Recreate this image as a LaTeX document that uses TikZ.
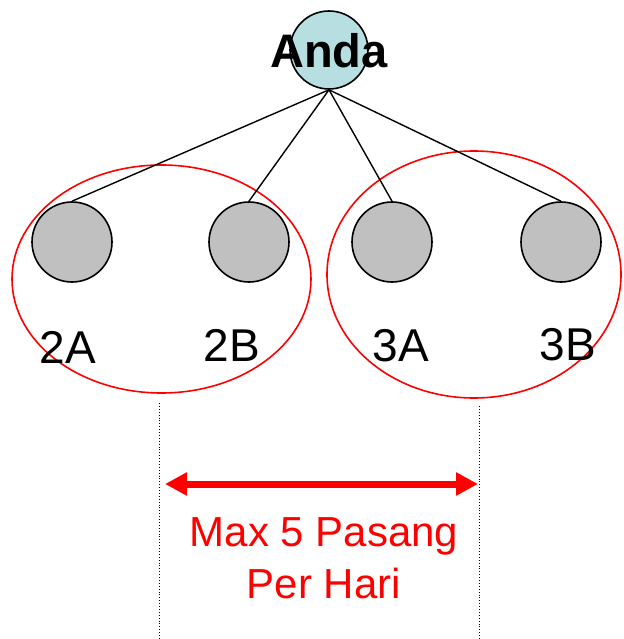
\documentclass[tikz,border=0pt]{standalone}
\usepackage{fontspec}
\setmainfont{Liberation Sans}
\usepackage{xcolor}
\usetikzlibrary{shapes.geometric,arrows.meta,positioning}

\definecolor{andacyan}{RGB}{183,223,226}
\definecolor{membergray}{RGB}{192,192,192}

\begin{document}
\begin{tikzpicture}[
    x=1pt, y=-1pt,
    person/.style={circle, draw, line width=1.6pt, fill=andacyan, minimum size=78pt, inner sep=0pt},
    member/.style={circle, draw, line width=1.6pt, fill=membergray, minimum size=80pt, inner sep=0pt},
    group/.style={ellipse, draw=red, line width=1.6pt, inner sep=0pt},
    tag/.style={font=\fontsize{46}{46}\selectfont},
    link/.style={line width=1.4pt},
    guide/.style={dotted, line width=0.9pt},
    limitarrow/.style={{Triangle[length=22pt,width=22pt]}-{Triangle[length=22pt,width=22pt]}, red, line width=7pt}
]
    \useasboundingbox (0,0) rectangle (623,639);

    % Groups
    \node[group, minimum width=299pt, minimum height=228pt] (grpleft) at (161.5,279) {};
    \node[group, minimum width=294pt, minimum height=247pt] (grpright) at (474,274.5) {};

    % You
    \node[person] (anda) at (329,50) {};
    \node[font=\bfseries\fontsize{47}{47}\selectfont] (andatext) at (329,51) {Anda};

    % Members
    \node[member] (m2a) at (72,242) {};
    \node[member] (m2b) at (249,242) {};
    \node[member] (m3a) at (392,242) {};
    \node[member] (m3b) at (561,242) {};

    % Lines
    \draw[link] (anda.south) -- (m2a.north);
    \draw[link] (anda.south) -- (m2b.north);
    \draw[link] (anda.south) -- (m3a.north);
    \draw[link] (anda.south) -- (m3b.north);

    % Labels
    \node[tag] (lbl2a) at (68,347.5) {2A};
    \node[tag] (lbl2b) at (232,345) {2B};
    \node[tag] (lbl3a) at (401,345.5) {3A};
    \node[tag] (lbl3b) at (568,345) {3B};

    % Limit
    \coordinate (guidelefttop) at (159,403);
    \coordinate (guideleftbot) at (159,639);
    \coordinate (guiderighttop) at (479,406);
    \coordinate (guiderightbot) at (479,639);
    \draw[guide] (guidelefttop) -- (guideleftbot);
    \draw[guide] (guiderighttop) -- (guiderightbot);
    \coordinate (arrowleft) at (165,484);
    \coordinate (arrowright) at (478,484);
    \draw[limitarrow] (arrowleft) -- (arrowright);
    \node[text=red, font=\fontsize{42}{52}\selectfont, align=center] (limit) at (324,558) {Max 5 Pasang\\Per Hari};
\end{tikzpicture}
\end{document}
